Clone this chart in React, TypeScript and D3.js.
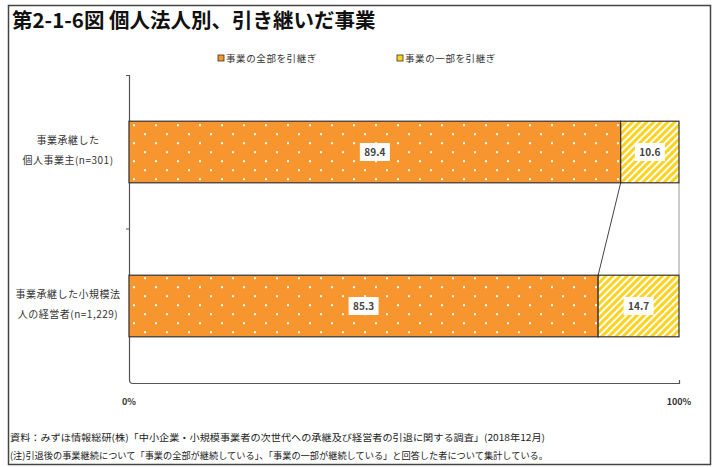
import React from "react";
import * as d3 from "d3";

const title = "第2-1-6図 個人法人別、引き継いだ事業";
const categories = [
  ["事業承継した", "個人事業主(n=301)"],
  ["事業承継した小規模法", "人の経営者(n=1,229)"],
];
const seriesNames = ["事業の全部を引継ぎ", "事業の一部を引継ぎ"];
const allValues = [89.4, 85.3];
const partValues = [10.6, 14.7];
const xTicks = [0, 100];
const notes = [
  "資料：みずほ情報総研(株)「中小企業・小規模事業者の次世代への承継及び経営者の引退に関する調査」(2018年12月)",
  "(注)引退後の事業継続について「事業の全部が継続している」、「事業の一部が継続している」と回答した者について集計している。",
];

const W = 723;
const H = 467;
const FONT = "'Noto Sans CJK JP', 'Noto Sans', sans-serif";
const TXT = "#333";

export default function App() {
  const x = d3.scaleLinear().domain([0, 100]).range([129, 679]);
  const y = d3
    .scaleBand<number>()
    .domain(categories.map((_, i) => i))
    .range([75, 383])
    .paddingInner(0.6)
    .paddingOuter(0.3);
  const bw = y.bandwidth();
  const seriesData = [allValues, partValues];
  const stack = categories.map((_, i) => {
    let acc = 0;
    return seriesData.map((s) => {
      const x0 = acc;
      acc += s[i];
      return { x0, x1: acc, v: s[i] };
    });
  });
  const fills = ["url(#dots)", "url(#hatch)"];
  const midY = (75 + 383) / 2;
  const noteLens = [535, 538];

  return (
    <svg
      width={W}
      height={H}
      style={{ position: "absolute", left: 0, top: 0, display: "block", background: "#fff" }}
      fontFamily={FONT}
    >
      <defs>
        <pattern id="dots" patternUnits="userSpaceOnUse" width={22} height={18} x={129} y={y(0)}>
          <rect width={22} height={18} fill="#F7952F" />
          <rect x={4} y={3} width={2} height={2} fill="#fff" />
          <rect x={15} y={12} width={2} height={2} fill="#fff" />
        </pattern>
        <pattern
          id="hatch"
          patternUnits="userSpaceOnUse"
          width={5}
          height={5}
          patternTransform="rotate(45)"
        >
          <rect width={5} height={5} fill="#FFD21F" />
          <rect width={2} height={5} fill="#fff" />
        </pattern>
      </defs>

      {/* frame */}
      <rect x={8.5} y={5.5} width={702} height={459} fill="none" stroke="#444" strokeWidth={1.5} />

      {/* title */}
      <text x={12} y={28} fontSize={20.5} fontWeight="bold" fill="#111">
        {title}
      </text>

      {/* legend */}
      {seriesNames.map((n, i) => {
        const lx = [218, 397][i];
        return (
          <g key={n}>
            <rect x={lx} y={55} width={6} height={6} fill={i === 0 ? "#F7952F" : "#FFD21F"} stroke="#333" strokeWidth={0.8} />
            <text x={lx + 8} y={62} fontSize={9.5} letterSpacing={0.6} fill={TXT}>
              {n}
            </text>
          </g>
        );
      })}

      {/* axes */}
      <path
        d={`M126,${75.5}H129.5V${380}Q129.5,383.5 133,383.5H${679.5}V380`}
        fill="none"
        stroke="#555"
        strokeWidth={1.2}
      />
      <line x1={126} x2={129.5} y1={midY} y2={midY} stroke="#555" strokeWidth={1} />

      {/* connector lines */}
      {seriesData.slice(0, 1).map((_, s) => (
        <line
          key={s}
          x1={x(stack[0][s].x1)}
          y1={(y(0) as number) + bw}
          x2={x(stack[1][s].x1)}
          y2={y(1) as number}
          stroke="#444"
          strokeWidth={1}
        />
      ))}
      <line x1={x(100)} x2={x(100)} y1={(y(0) as number) + bw} y2={y(1) as number} stroke="#999" strokeWidth={1} />

      {/* bars */}
      {stack.map((segs, i) =>
        segs.map((sg, s) => (
          <rect
            key={`${i}-${s}`}
            x={x(sg.x0)}
            y={y(i)}
            width={x(sg.x1) - x(sg.x0)}
            height={bw}
            fill={fills[s]}
            stroke="#333"
            strokeWidth={1.2}
          />
        ))
      )}

      {/* data labels */}
      {stack.map((segs, i) =>
        segs.map((sg, s) => {
          const cx = x((sg.x0 + sg.x1) / 2);
          const cy = (y(i) as number) + bw / 2;
          const label = sg.v.toFixed(1);
          return (
            <g key={`l${i}-${s}`}>
              <rect x={cx - 15} y={cy - 9} width={30} height={18} fill="#fff" />
              <text x={cx} y={cy + 3.5} fontSize={10} fontWeight="bold" fill="#444" textAnchor="middle">
                {label}
              </text>
            </g>
          );
        })
      )}

      {/* category labels */}
      {categories.map((lines, i) => {
        const cy = (y(i) as number) + bw / 2;
        return (
          <text key={i} textAnchor="middle" fontSize={10} fill={TXT} letterSpacing={0.5}>
            {lines.map((ln, k) => (
              <tspan key={k} x={68} y={cy - 8 + k * 20}>
                {ln}
              </tspan>
            ))}
          </text>
        );
      })}

      {/* x tick labels */}
      {xTicks.map((t) => (
        <text key={t} x={x(t)} y={405} fontSize={9} fill={TXT} textAnchor="middle" fontWeight="bold">
          {`${t}%`}
        </text>
      ))}

      {/* notes */}
      {notes.map((n, i) => (
        <text
          key={i}
          x={10}
          y={441 + i * 18}
          fontSize={9.4}
          fill="#222"
          textLength={noteLens[i]}
          lengthAdjust="spacingAndGlyphs"
        >
          {n}
        </text>
      ))}
    </svg>
  );
}
